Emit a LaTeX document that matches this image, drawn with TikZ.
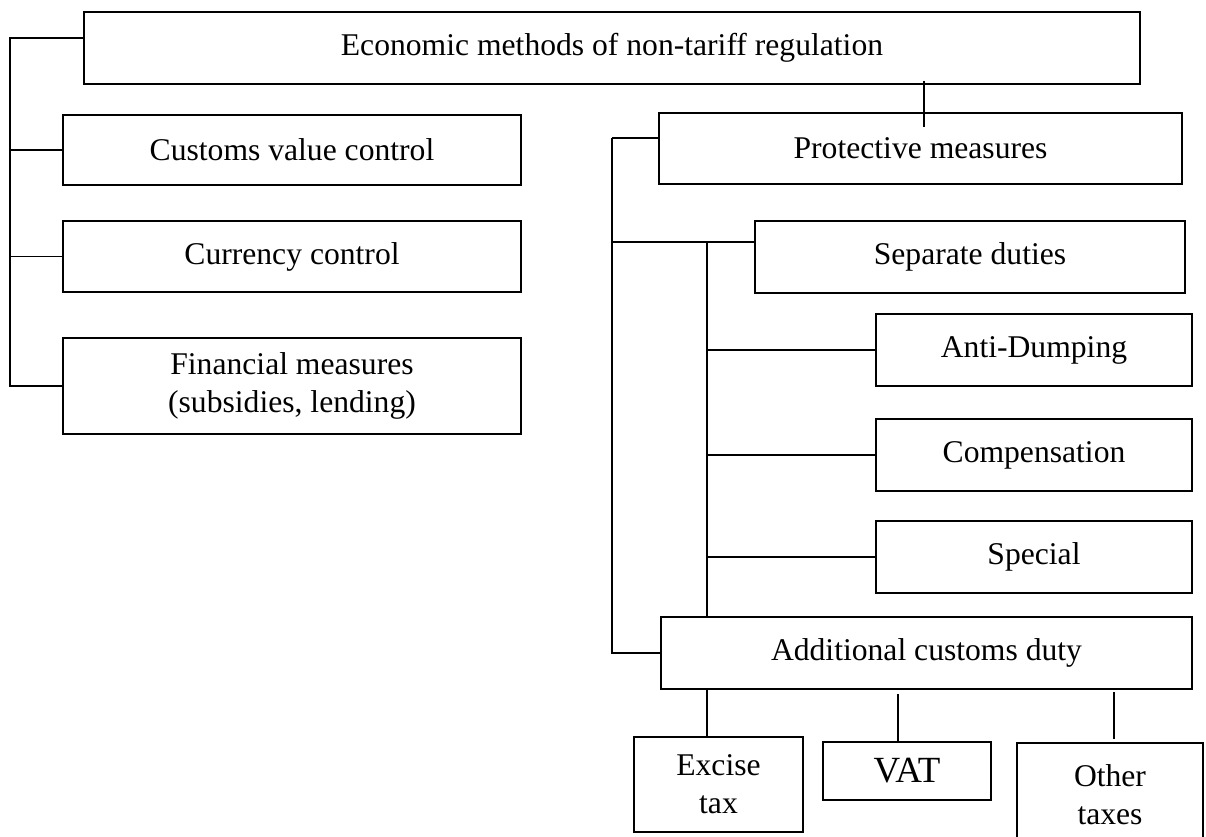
\documentclass[tikz,border=0pt]{standalone}
\usepackage{fontspec}
\setmainfont{Liberation Serif}
\usetikzlibrary{calc}

\begin{document}
\begin{tikzpicture}[
    x=0.02cm, y=-0.02cm,
    block/.style={draw, line width=1pt, align=center, inner sep=2pt, font=\fontsize{18}{21.5}\selectfont},
    side/.style={block, minimum width=9.16cm},
    duty/.style={block, minimum width=6.32cm, minimum height=1.44cm},
    tax/.style={block},
    link/.style={line width=0.9pt}
]

\useasboundingbox (0,0) rectangle (1206,837);
\clip (0,0) rectangle (1206,837);

\node[block, minimum width=21.12cm, minimum height=1.44cm] (top) at (612,48) {Economic methods of non-tariff regulation};

% left branch
\node[side, minimum height=1.40cm] (cust) at (292,150) {Customs value control};
\node[side, minimum height=1.42cm] (curr) at (292,256.5) {Currency control};
\node[side, minimum height=1.92cm] (fin) at (292,386) {Financial measures\\(subsidies, lending)};

\coordinate (lbus) at (10,38);
\draw[link] (lbus -| top.west) -- (lbus) |- (fin.west);
\draw[link] (cust.west) -- (cust.west -| lbus);
\draw[link] (curr.west) -- (curr.west -| lbus);

% right branch
\node[block, minimum width=10.46cm, minimum height=1.42cm] (prot) at (920.5,148.5) {Protective measures};
\node[block, minimum width=8.6cm, minimum height=1.44cm] (sep) at (970,257) {Separate duties};
\node[duty] (anti) at (1034,350) {Anti-Dumping};
\node[duty] (comp) at (1034,455) {Compensation};
\node[duty] (spec) at (1034,557) {Special};
\node[block, minimum width=10.62cm, minimum height=1.44cm] (add) at (926.5,653) {Additional customs duty};

\coordinate (drop) at (924,0);
\draw[link] ($(top.south -| drop)+(0,-4)$) -- ($(prot.north -| drop)+(0,15)$);

\coordinate (rbus) at (612,138);
\coordinate (ibus) at (707,242);
\draw[link] (rbus) -- (rbus -| prot.west);
\draw[link] (rbus) |- (add.west);
\draw[link] (rbus |- ibus) -- (ibus -| sep.west);
\draw[link] (ibus) -- (ibus |- add.north);
\foreach \n in {anti,comp,spec}
    \draw[link] (\n.west) -- (\n.west -| ibus);

% taxes
\node[tax, minimum width=3.38cm, minimum height=1.9cm] (exc) at (718.5,784.5) {Excise\\tax};
\node[tax, minimum width=3.36cm, minimum height=1.16cm, font=\fontsize{21}{24}\selectfont] (vat) at (907,771) {VAT};
\node[tax, minimum width=3.72cm, minimum height=2.08cm] (oth) at (1110,795) {Other\\taxes};

\draw[link] (add.south -| ibus) -- (exc.north -| ibus);
\draw[link] ($(vat.north)+(-9,0)$) -- ($(vat.north |- add.south)+(-9,4)$);
\draw[link] ($(oth.north)+(4,-3)$) -- ($(oth.north |- add.south)+(4,2)$);

\end{tikzpicture}
\end{document}
